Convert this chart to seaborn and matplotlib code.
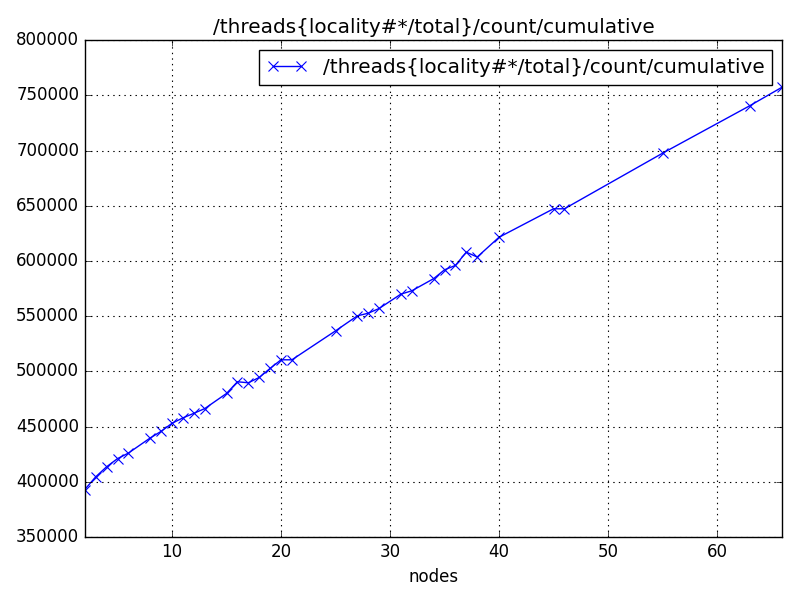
import matplotlib
matplotlib.use("Agg")
import matplotlib.pyplot as plt
import seaborn as sns
import pandas as pd

nodes = [2, 3, 4, 5, 6, 8, 9, 10, 11, 12, 13, 15, 16, 17, 18, 19, 20, 21,
         25, 27, 28, 29, 31, 32, 34, 35, 36, 37, 38, 40, 45, 46, 55, 63, 66]
counts = [393000, 404500, 413600, 421000, 426000, 439700, 445700, 453000,
          457900, 462000, 466300, 480000, 490600, 489700, 494500, 502700,
          510500, 510500, 536700, 550300, 552700, 557000, 570000, 573000,
          584000, 592000, 596000, 608000, 603600, 621500, 647300, 647300,
          697600, 740600, 757600]
label = "/threads{locality#*/total}/count/cumulative"

df = pd.DataFrame({"nodes": nodes, "count": counts})

plt.style.use("classic")
fig = plt.figure(figsize=(8, 6), dpi=100, facecolor="white")
ax = fig.add_axes([0.106, 0.105, 0.872, 0.828])
sns.lineplot(data=df, x="nodes", y="count", ax=ax, color="b", marker="x",
             markersize=6.5, markeredgewidth=0.8, markeredgecolor="b",
             linewidth=1, label=label, estimator=None, sort=False)
ax.set_xlim(2, 66)
ax.set_ylim(350000, 800000)
ax.set_xticks([10, 20, 30, 40, 50, 60])
ax.set_yticks(range(350000, 800001, 50000))
ax.ticklabel_format(axis="y", style="plain", useOffset=False)
ax.grid(True, color="black", linestyle=":", linewidth=0.8)
ax.set_xlabel("nodes", fontsize=12)
ax.set_ylabel("")
ax.set_title(label, fontsize=14.4)
ax.tick_params(labelsize=12)
ax.legend(loc="upper right", fontsize=14.4, frameon=True, handlelength=2.0)
fig.savefig("out.png", dpi=100, facecolor="white")
